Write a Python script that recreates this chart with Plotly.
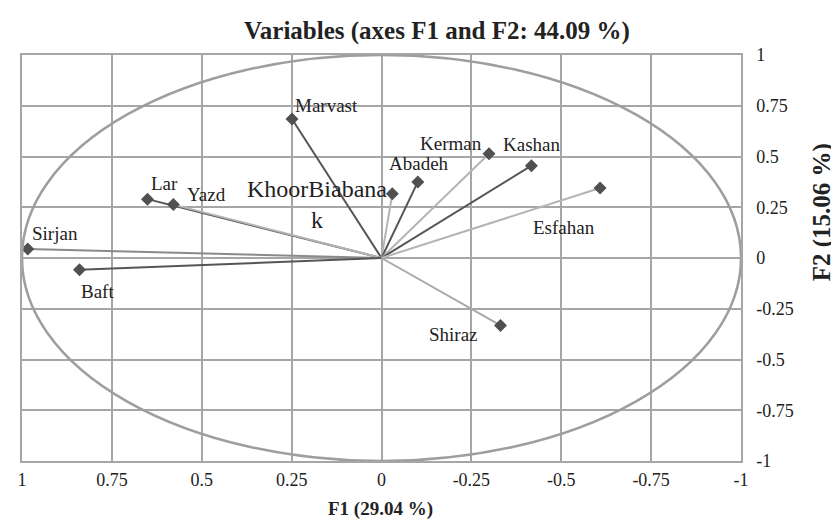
import plotly.graph_objects as go

# ---- data ----
variables = ["Marvast", "Lar", "Yazd", "KhoorBiabanak", "Sirjan", "Baft",
             "Abadeh", "Kerman", "Kashan", "Esfahan", "Shiraz"]
f1 = [0.249, 0.651, 0.579, -0.030, 0.984, 0.840, -0.101, -0.299, -0.417, -0.608, -0.331]
f2 = [0.685, 0.290, 0.263, 0.316, 0.044, -0.058, 0.375, 0.514, 0.455, 0.345, -0.332]
label_text = ["Marvast", "Lar", "Yazd", "KhoorBiabana<br>k", "Sirjan", "Baft",
              "Abadeh", "Kerman", "Kashan", "Esfahan", "Shiraz"]
tick_vals = [1, 0.75, 0.5, 0.25, 0, -0.25, -0.5, -0.75, -1]
tick_text = ["1", "0.75", "0.5", "0.25", "0", "-0.25", "-0.5", "-0.75", "-1"]

# ---- styles ----
line_colors = ["#555555", "#555555", "#b4b4b4", "#b4b4b4", "#8a8a8a", "#555555",
               "#555555", "#b4b4b4", "#555555", "#b4b4b4", "#a8a8a8"]
label_dx = [35, 17, 33, -75, 27, 18, 1, -38, 0, -36, -47]
label_dy = [13, 16, 10, -11, 16, -22, 18, 10, 21, -40, -9]
label_size = [19, 19, 19, 24, 19, 19, 19, 19, 19, 19, 19]
FONT = "Liberation Serif, Times New Roman, serif"

W, H = 831, 512  # page body has an 8px margin

fig = go.Figure()

# unit circle
fig.add_shape(type="circle", xref="x", yref="y", x0=-1, y0=-1, x1=1, y1=1,
              line=dict(color="#9e9e9e", width=2.5), layer="above")

for i, v in enumerate(variables):
    fig.add_trace(go.Scatter(
        x=[0, f1[i]], y=[0, f2[i]], mode="lines",
        line=dict(color=line_colors[i], width=2),
        hoverinfo="skip", showlegend=False))

fig.add_trace(go.Scatter(
    x=f1, y=f2, mode="markers", text=variables,
    marker=dict(symbol="diamond", size=10, color="#505050"),
    showlegend=False))

for i in range(len(variables)):
    fig.add_annotation(x=f1[i], y=f2[i], text=label_text[i], showarrow=False,
                       xshift=label_dx[i], yshift=label_dy[i],
                       xanchor="center", yanchor="middle",
                       font=dict(family=FONT, size=label_size[i], color="#222222"))

fig.add_annotation(xref="paper", yref="paper", x=0.4986, y=-0.118,
                   text="<b>F1 (29.04 %)</b>", showarrow=False,
                   xanchor="center", yanchor="middle",
                   font=dict(family=FONT, size=19, color="#222222"))
fig.add_annotation(xref="paper", yref="paper", x=1.113, y=0.613,
                   text="<b>F2 (15.06 %)</b>", showarrow=False, textangle=-90,
                   xanchor="center", yanchor="middle",
                   font=dict(family=FONT, size=25, color="#222222"))

axis_common = dict(tickmode="array", tickvals=tick_vals, ticktext=tick_text,
                   showgrid=True, gridcolor="#a6a6a6", gridwidth=1.5,
                   zeroline=False, showline=True, linecolor="#a6a6a6", linewidth=1.5,
                   mirror=True, ticks="", tickfont=dict(family=FONT, size=18, color="#222222"))

fig.update_xaxes(**axis_common)
fig.update_xaxes(range=[1, -1], ticklabelstandoff=2)
fig.update_yaxes(**axis_common)
fig.update_yaxes(range=[-1, 1], side="right", ticklabelstandoff=10)

fig.update_layout(
    width=W, height=H,
    margin=dict(l=9, r=98, t=47, b=59),
    paper_bgcolor="white", plot_bgcolor="white",
    title=dict(text="<b>Variables (axes F1 and F2: 44.09 %)</b>",
               x=429/W, xanchor="center", y=1-22/H, yanchor="middle",
               font=dict(family=FONT, size=25, color="#222222")),
)

fig.write_html("out.html")
